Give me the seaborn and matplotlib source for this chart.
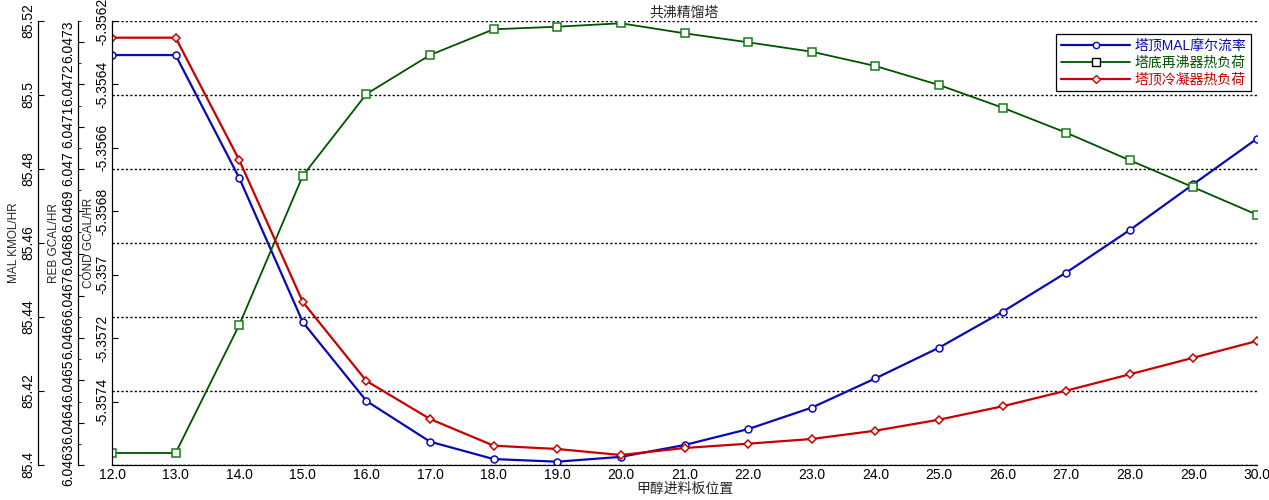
import matplotlib
matplotlib.use("Agg")
import matplotlib.pyplot as plt
import numpy as np
import seaborn as sns
from matplotlib.lines import Line2D
from matplotlib.ticker import FuncFormatter, MultipleLocator, FixedLocator

# feed plate position
plates = list(range(12, 31))

# MAL molar flow at the top (KMOL/HR)
mal_flow = [85.5108, 85.5108, 85.4776, 85.4386, 85.4173, 85.4063, 85.4016, 85.4009,
            85.4022, 85.4054, 85.4097, 85.4155, 85.4234, 85.4317, 85.4414, 85.4520,
            85.4635, 85.4759, 85.4882]

# reboiler duty (GCAL/HR)
reb_duty = [6.0463284, 6.0463284, 6.0466311, 6.0469842, 6.0471774, 6.0472696,
            6.0473304, 6.0473365, 6.0473446, 6.0473209, 6.0472996, 6.0472774,
            6.0472436, 6.0471987, 6.0471450, 6.0470859, 6.0470206, 6.0469567,
            6.0468919]

# condenser duty (GCAL/HR)
cond_duty = [-5.3562526, -5.3562526, -5.3566383, -5.3570860, -5.3573351, -5.3574550,
             -5.3575391, -5.3575495, -5.3575685, -5.3575464, -5.3575328, -5.3575180,
             -5.3574918, -5.3574572, -5.3574149, -5.3573657, -5.3573140, -5.3572617,
             -5.3572090]

labels = ["塔顶MAL摩尔流率", "塔底再沸器热负荷", "塔顶冷凝器热负荷"]
colors = ["#0a0ab4", "#005200", "#c80000"]

sns.set_style("white")
plt.rcParams["font.family"] = ["Liberation Sans", "Noto Sans CJK SC", "DejaVu Sans"]
plt.rcParams["axes.unicode_minus"] = False


def fmt_g(v, pos):
    return "{:g}".format(round(v, 7))


fig = plt.figure(figsize=(12.69, 5), dpi=100)
ax_mal = fig.add_axes([112 / 1269, 35 / 500, 1145 / 1269, 444 / 500])
ax_reb = ax_mal.twinx()
ax_cond = ax_mal.twinx()

# draw the three series
sns.lineplot(x=plates, y=mal_flow, ax=ax_mal, color=colors[0], linewidth=1.6,
             marker="o", markersize=5, markerfacecolor="white",
             markeredgecolor=colors[0], markeredgewidth=1.1)
sns.lineplot(x=plates, y=reb_duty, ax=ax_reb, color=colors[1], linewidth=1.3,
             marker="s", markersize=6, markerfacecolor="white",
             markeredgecolor="#1a7a1a", markeredgewidth=1.1)
sns.lineplot(x=plates, y=cond_duty, ax=ax_cond, color=colors[2], linewidth=1.6,
             marker="D", markersize=4.5, markerfacecolor="white",
             markeredgecolor=colors[2], markeredgewidth=1.1)

# x axis
ax_mal.set_xlim(12, 30)
ax_mal.xaxis.set_major_locator(MultipleLocator(1))
ax_mal.xaxis.set_major_formatter(FuncFormatter(lambda v, p: "{:.1f}".format(v)))
ax_mal.set_xlabel("甲醇进料板位置", fontsize=10, labelpad=0)
ax_mal.set_title("共沸精馏塔", fontsize=10, pad=3)

# y axes
ax_mal.set_ylim(85.4, 85.52)
ax_mal.yaxis.set_major_locator(FixedLocator(np.round(np.arange(85.4, 85.5201, 0.02), 3)))
ax_reb.set_ylim(6.0463, 6.04735)
ax_reb.yaxis.set_major_locator(FixedLocator(np.round(np.arange(6.0463, 6.047301, 0.0001), 5)))
ax_reb.yaxis.set_minor_locator(MultipleLocator(0.00005))
ax_cond.set_ylim(-5.3576, -5.3562)
ax_cond.yaxis.set_major_locator(FixedLocator(np.round(np.arange(-5.3574, -5.35619, 0.0002), 5)))

offsets = {ax_mal: 53.3, ax_reb: 24.5, ax_cond: 0}
ylabels = {ax_mal: "MAL KMOL/HR", ax_reb: "REB GCAL/HR", ax_cond: "COND GCAL/HR"}
label_x = {ax_mal: -0.080, ax_reb: -0.045, ax_cond: -0.015}
for a in (ax_mal, ax_reb, ax_cond):
    a.yaxis.set_ticks_position("left")
    a.yaxis.set_label_position("left")
    for s in ("top", "right"):
        a.spines[s].set_visible(False)
    a.spines["left"].set_visible(True)
    a.spines["left"].set_position(("outward", offsets[a]))
    a.spines["left"].set_color("black")
    a.spines["left"].set_linewidth(0.9)
    a.yaxis.set_major_formatter(FuncFormatter(fmt_g))
    a.tick_params(axis="y", which="both", direction="in", labelrotation=90,
                  labelsize=10, pad=2, colors="black")
    a.tick_params(axis="y", which="major", length=4)
    a.tick_params(axis="y", which="minor", length=2.5)
    a.set_ylabel(ylabels[a], fontsize=8.5)
    a.yaxis.set_label_coords(label_x[a], 0.5)
    # keep rotated labels centred on their ticks
    for lbl in a.get_yticklabels():
        lbl.set_verticalalignment("center")

for a in (ax_reb, ax_cond):
    a.spines["bottom"].set_visible(False)

ax_mal.spines["bottom"].set_color("black")
ax_mal.spines["bottom"].set_linewidth(0.9)
ax_mal.tick_params(axis="x", direction="in", length=4, labelsize=10, pad=2, colors="black")

# dotted grid following the MAL ticks
ax_mal.grid(axis="y", color="black", linestyle=(0, (1.6, 1.6)), linewidth=1.0)
ax_mal.grid(axis="x", visible=False)

handles = [
    Line2D([], [], color=colors[0], linewidth=1.6, marker="o", markersize=4.5,
           markerfacecolor="white", markeredgecolor=colors[0]),
    Line2D([], [], color=colors[1], linewidth=1.3, marker="s", markersize=5.5,
           markerfacecolor="white", markeredgecolor="black"),
    Line2D([], [], color=colors[2], linewidth=1.6, marker="D", markersize=4,
           markerfacecolor="white", markeredgecolor=colors[2]),
]
leg = fig.legend(handles, labels, loc="upper right",
                 bbox_to_anchor=(1251 / 1269, 1 - 34 / 500), fontsize=10,
                 frameon=True, fancybox=False, edgecolor="black", framealpha=1,
                 handlelength=5.0, handletextpad=0.3, labelspacing=0.2,
                 borderpad=0.35, borderaxespad=0)
leg.get_frame().set_linewidth(0.9)
for txt, c in zip(leg.get_texts(), colors):
    txt.set_color(c)

fig.savefig("out.png", dpi=100)
